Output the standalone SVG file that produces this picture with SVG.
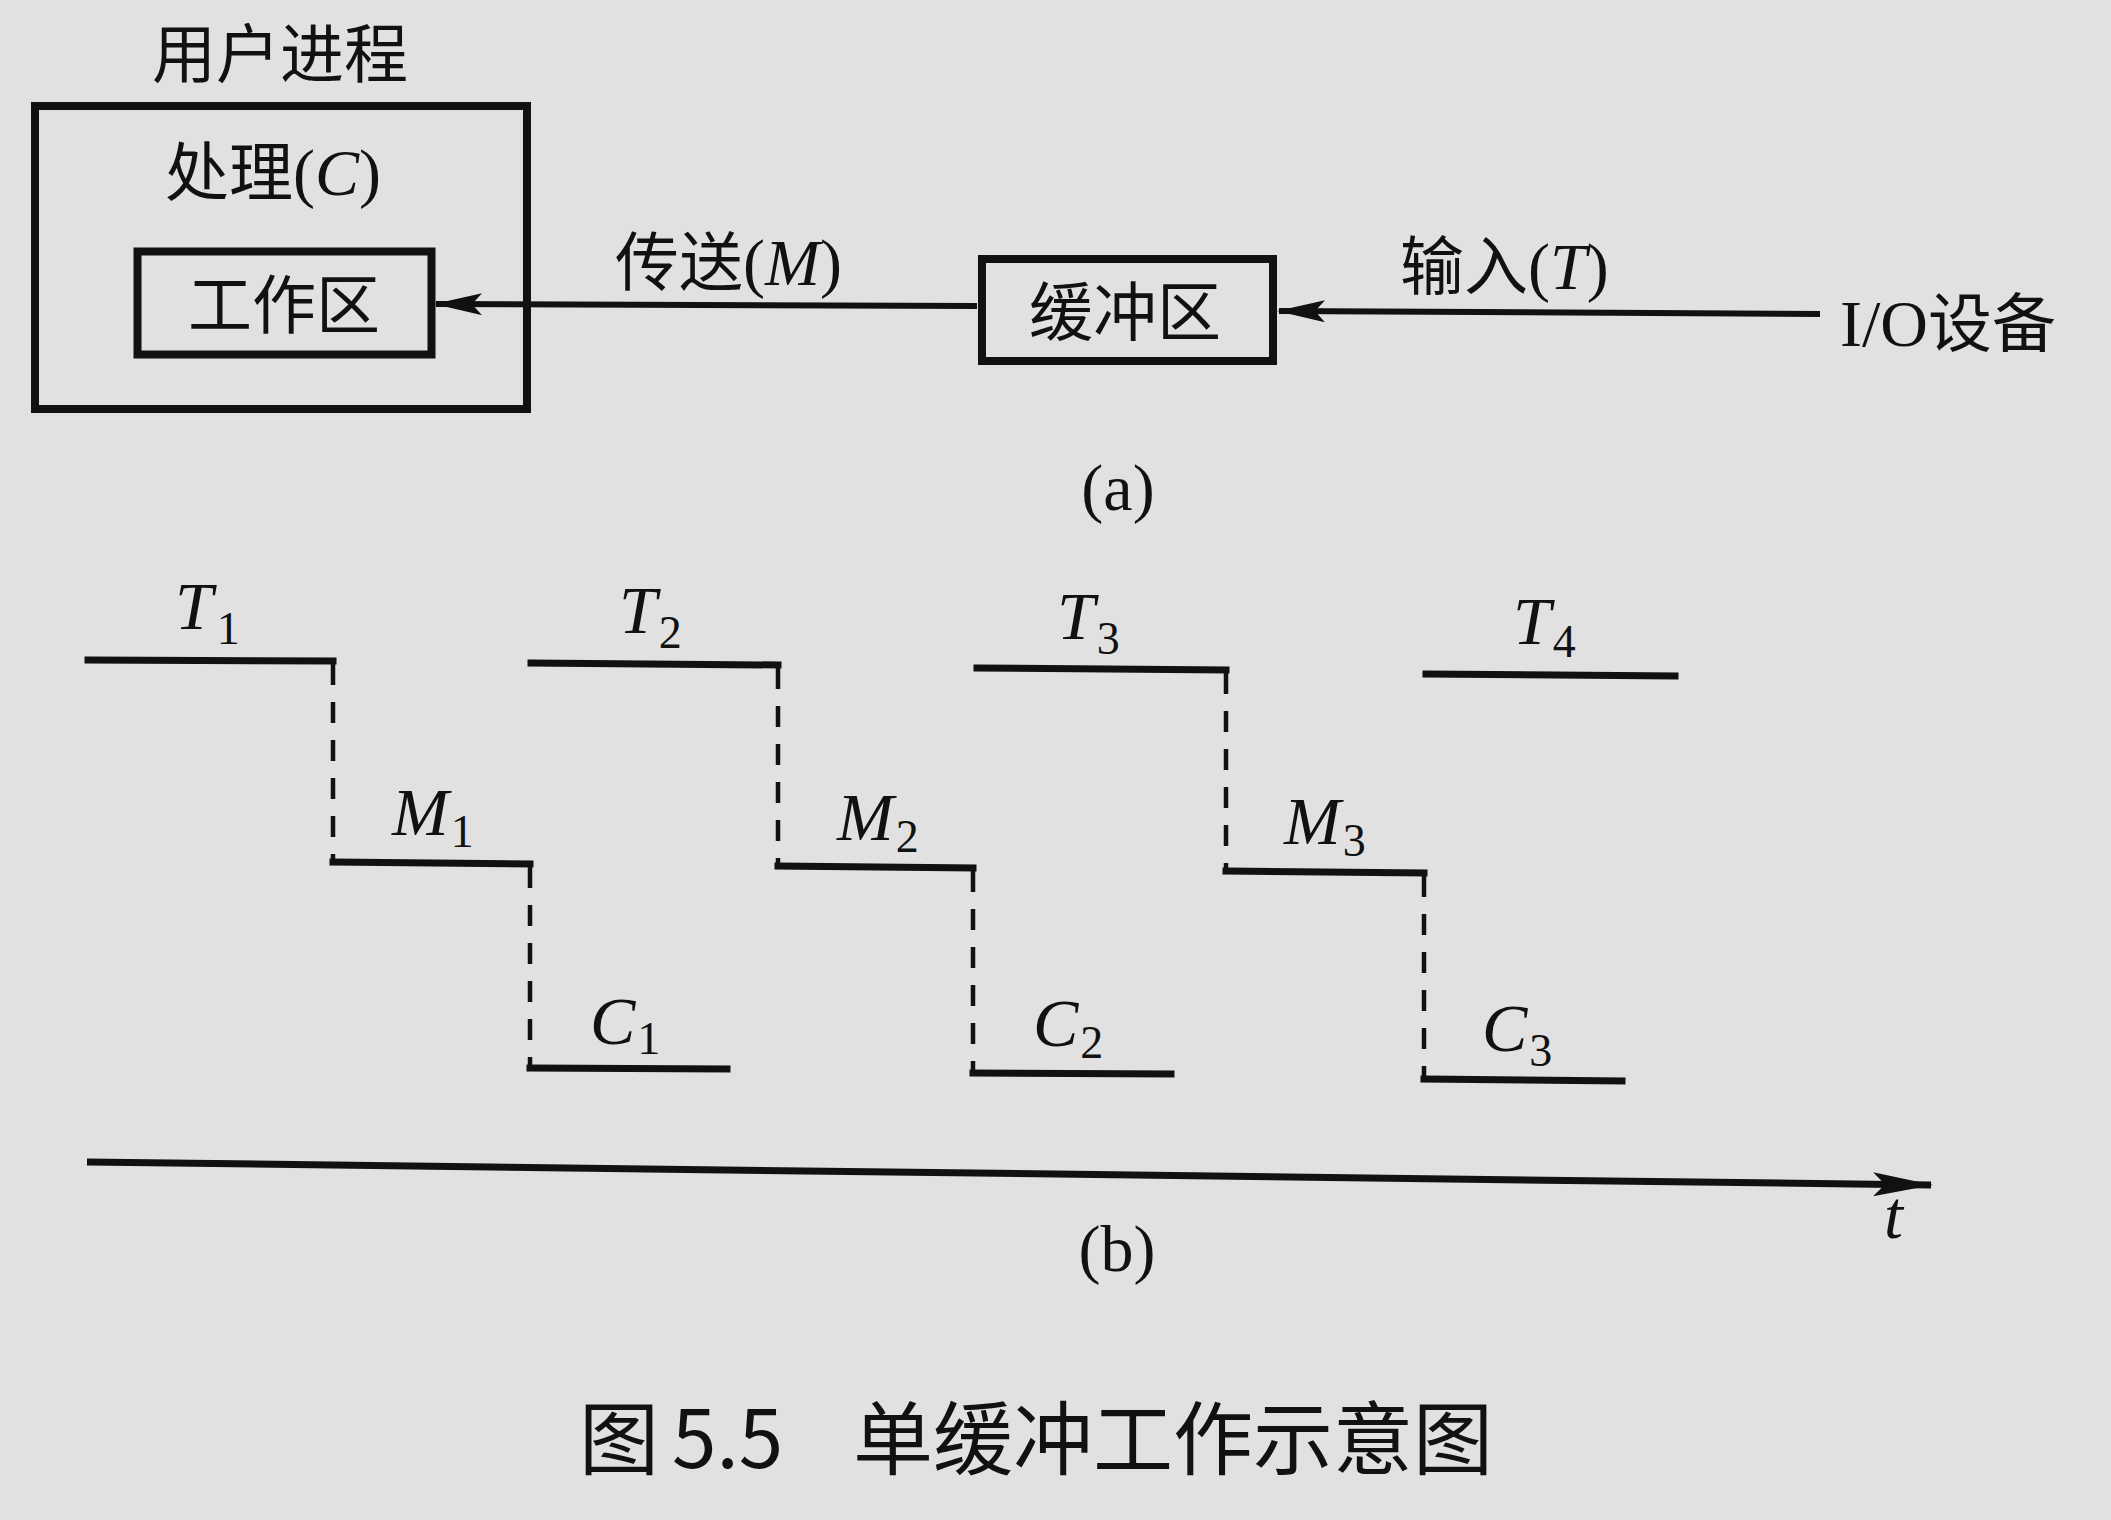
<svg xmlns="http://www.w3.org/2000/svg" width="2111" height="1520" viewBox="0 0 2111 1520">
<style>
.cjk{font-family:"Noto Sans CJK SC","Noto Sans",sans-serif;fill:#111;font-size:64px}
.lat{font-family:"Liberation Serif","Times New Roman",serif;fill:#111}
.it{font-style:italic}
.box{fill:none;stroke:#111;stroke-width:8}
.seg{fill:none;stroke:#111;stroke-width:7;stroke-linecap:square}
.dash{fill:none;stroke:#111;stroke-width:4.5;stroke-dasharray:21 17}
.lbl{font-family:"Liberation Serif","Times New Roman",serif;fill:#111;font-size:68px;font-style:italic}
.sub{font-size:46px;font-style:normal}
.conn{fill:none;stroke:#111;stroke-width:6}
.cap{font-family:"Noto Sans CJK SC","Noto Sans",sans-serif;fill:#111;font-size:80px}
</style>
<defs>
<marker id="arr" viewBox="0 0 48 22" refX="46" refY="11" markerWidth="48" markerHeight="22" orient="auto" markerUnits="userSpaceOnUse">
<path d="M0,0 L48,11 L0,22 L10,11 Z" fill="#111"/>
</marker>
<marker id="arrT" viewBox="0 0 60 24" refX="58" refY="12" markerWidth="60" markerHeight="24" orient="auto" markerUnits="userSpaceOnUse">
<path d="M0,0 L60,12 L0,24 L12,12 Z" fill="#111"/>
</marker>
</defs>
<rect x="0" y="0" width="2111" height="1520" fill="#e1e1e1"/>

<g id="user-process">
<text class="cjk" x="152" y="77">用户进程</text>
<rect class="box" x="35" y="106" width="492" height="303"/>
<text x="165" y="195"><tspan class="cjk">处理</tspan><tspan class="lat" font-size="66">(</tspan><tspan class="lat it" font-size="66">C</tspan><tspan class="lat" font-size="66">)</tspan></text>
</g>

<g id="work-area">
<rect class="box" x="137.5" y="251.5" width="294" height="103" stroke-width="7"/>
<text class="cjk" x="284" y="328" text-anchor="middle">工作区</text>
</g>

<g id="buffer">
<rect class="box" x="982" y="259" width="291" height="102"/>
<text class="cjk" x="1125" y="335" text-anchor="middle">缓冲区</text>
</g>

<g id="io-device">
<text x="1840" y="346"><tspan class="lat" font-size="66">I/O</tspan><tspan class="cjk">设备</tspan></text>
</g>

<g id="connectors">
<line class="conn" x1="977" y1="306" x2="436" y2="304" marker-end="url(#arr)"/>
<text x="615" y="285"><tspan class="cjk">传送</tspan><tspan class="lat" font-size="66">(</tspan><tspan class="lat it" font-size="66">M</tspan><tspan class="lat" font-size="66">)</tspan></text>
<line class="conn" x1="1820" y1="314" x2="1279" y2="311" marker-end="url(#arr)"/>
<text x="1400" y="289"><tspan class="cjk">输入</tspan><tspan class="lat" font-size="66">(</tspan><tspan class="lat it" font-size="66">T</tspan><tspan class="lat" font-size="66">)</tspan></text>
</g>

<text class="lat" x="1118" y="510" font-size="66" text-anchor="middle">(a)</text>

<g id="timeline">
<line class="seg" x1="88" y1="660" x2="333" y2="661"/>
<line class="dash" x1="333" y1="664" x2="333" y2="862"/>
<line class="seg" x1="333" y1="862" x2="530" y2="864"/>
<line class="dash" x1="530" y1="867" x2="530" y2="1068"/>
<line class="seg" x1="530" y1="1068" x2="727" y2="1069"/>

<line class="seg" x1="531" y1="663" x2="778" y2="665"/>
<line class="dash" x1="778" y1="668" x2="778" y2="866"/>
<line class="seg" x1="778" y1="866" x2="973" y2="868"/>
<line class="dash" x1="973" y1="871" x2="973" y2="1073"/>
<line class="seg" x1="973" y1="1073" x2="1171" y2="1074"/>

<line class="seg" x1="977" y1="668" x2="1226" y2="670"/>
<line class="dash" x1="1226" y1="673" x2="1226" y2="871"/>
<line class="seg" x1="1226" y1="871" x2="1424" y2="873"/>
<line class="dash" x1="1424" y1="876" x2="1424" y2="1079"/>
<line class="seg" x1="1424" y1="1079" x2="1622" y2="1081"/>

<line class="seg" x1="1426" y1="674" x2="1675" y2="676"/>

<text class="lbl" x="175" y="629">T<tspan class="sub" dx="4" dy="15">1</tspan></text>
<text class="lbl" x="619" y="633">T<tspan class="sub" dx="2" dy="15">2</tspan></text>
<text class="lbl" x="1057" y="639">T<tspan class="sub" dx="2" dy="15">3</tspan></text>
<text class="lbl" x="1513" y="644">T<tspan class="sub" dx="2" dy="13">4</tspan></text>

<text class="lbl" x="392" y="835">M<tspan class="sub" dx="2" dy="12">1</tspan></text>
<text class="lbl" x="837" y="840">M<tspan class="sub" dx="2" dy="12">2</tspan></text>
<text class="lbl" x="1284" y="844">M<tspan class="sub" dx="2" dy="12">3</tspan></text>

<text class="lbl" x="590" y="1044">C<tspan class="sub" dx="2" dy="10">1</tspan></text>
<text class="lbl" x="1033" y="1046">C<tspan class="sub" dx="2" dy="12">2</tspan></text>
<text class="lbl" x="1482" y="1051">C<tspan class="sub" dx="2" dy="15">3</tspan></text>

<line x1="87" y1="1162" x2="1931" y2="1185" stroke="#111" stroke-width="7" marker-end="url(#arrT)"/>
<text class="lbl" x="1884" y="1238">t</text>
</g>

<text class="lat" x="1117" y="1271" font-size="66" text-anchor="middle">(b)</text>

<text class="cap" y="1468"><tspan x="579">图</tspan><tspan x="672">5.5</tspan><tspan x="853">单缓冲工作示意图</tspan></text>
</svg>
